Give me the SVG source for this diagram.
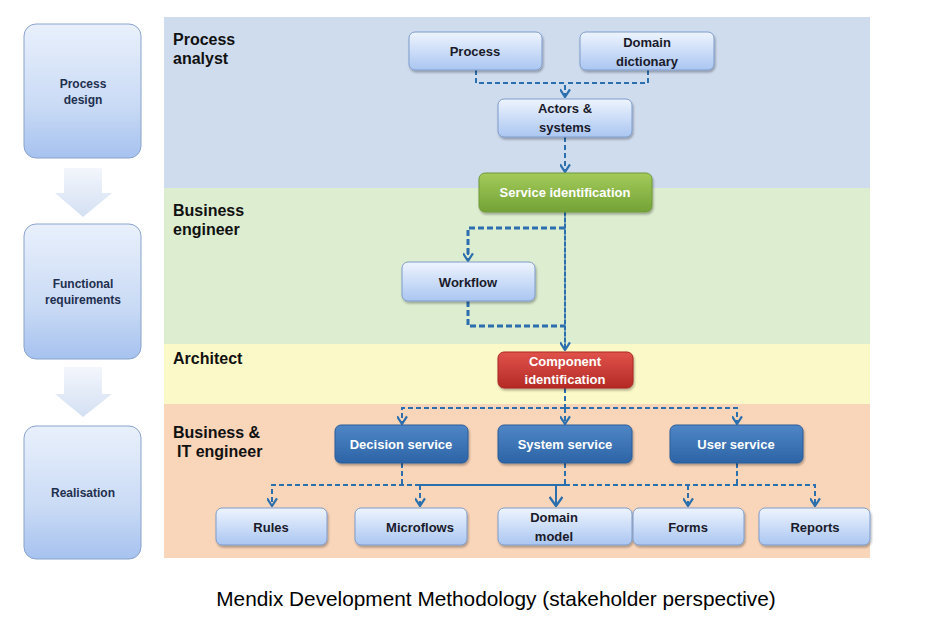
<svg xmlns="http://www.w3.org/2000/svg" width="928" height="627" viewBox="0 0 928 627">
<style>
.band-label{font-family:"Liberation Sans",Arial,sans-serif;font-weight:bold;font-size:16px;fill:#111;}
.stage{fill:url(#gStage);stroke:#8aa3cc;stroke-width:1;}
.stage-t{font-family:"Liberation Sans",Arial,sans-serif;font-weight:bold;font-size:12px;fill:#1f2f4f;text-anchor:middle;}
.fat{fill:url(#gArrow);}
.node{fill:url(#gLight);stroke:#7e9ccc;stroke-width:1;filter:url(#sh);}
.nodeG{fill:url(#gGreen);stroke:#6f9a38;stroke-width:1;filter:url(#sh);}
.nodeR{fill:url(#gRed);stroke:#a92723;stroke-width:1;filter:url(#sh);}
.nodeB{fill:url(#gBlue);stroke:#2a5c98;stroke-width:1;filter:url(#sh);}
.t{font-family:"Liberation Sans",Arial,sans-serif;font-weight:bold;font-size:13px;fill:#1a1a2a;text-anchor:middle;}
.tw{font-family:"Liberation Sans",Arial,sans-serif;font-weight:bold;font-size:13px;fill:#ffffff;text-anchor:middle;}
.dash{fill:none;stroke:#2b6fae;stroke-width:2;stroke-dasharray:5 3;marker-end:url(#chev);}
.dashn{fill:none;stroke:#2b6fae;stroke-width:2;stroke-dasharray:5 3;}
.dash3{fill:none;stroke:#2b6fae;stroke-width:3;stroke-dasharray:6 3;}
.solid{fill:none;stroke:#2b6fae;stroke-width:2;}
.thin{fill:none;stroke:#2b6fae;stroke-width:1.2;}
.caption{font-family:"Liberation Sans",Arial,sans-serif;font-size:20.8px;fill:#000;text-anchor:middle;}
</style>
<defs>
<linearGradient id="gStage" x1="0" y1="0" x2="0" y2="1">
<stop offset="0" stop-color="#e9f0fc"/><stop offset="0.6" stop-color="#cadbf5"/><stop offset="1" stop-color="#a6c2ef"/>
</linearGradient>
<linearGradient id="gArrow" x1="0" y1="0" x2="0" y2="1">
<stop offset="0" stop-color="#f3f6fc"/><stop offset="1" stop-color="#d3e0f3"/>
</linearGradient>
<linearGradient id="gLight" x1="0" y1="0" x2="0" y2="1">
<stop offset="0" stop-color="#eef4fe"/><stop offset="1" stop-color="#aac6f1"/>
</linearGradient>
<linearGradient id="gGreen" x1="0" y1="0" x2="0" y2="1">
<stop offset="0" stop-color="#a3cb5b"/><stop offset="1" stop-color="#74a236"/>
</linearGradient>
<linearGradient id="gRed" x1="0" y1="0" x2="0" y2="1">
<stop offset="0" stop-color="#e0524b"/><stop offset="1" stop-color="#b42a25"/>
</linearGradient>
<linearGradient id="gBlue" x1="0" y1="0" x2="0" y2="1">
<stop offset="0" stop-color="#4f86c6"/><stop offset="1" stop-color="#2c64a6"/>
</linearGradient>
<filter id="sh" x="-10%" y="-10%" width="125%" height="140%">
<feDropShadow dx="1" dy="2" stdDeviation="1.2" flood-color="#000" flood-opacity="0.3"/>
</filter>
<marker id="chev" viewBox="0 0 10 10" refX="9" refY="5" markerWidth="11" markerHeight="11" markerUnits="userSpaceOnUse" orient="auto">
<path d="M2,0.5 L9,5 L2,9.5" fill="none" stroke="#2b6fae" stroke-width="2" stroke-dasharray="none"/>
</marker>
<marker id="chevL" viewBox="0 0 12 14" refX="11" refY="7" markerWidth="12" markerHeight="14" markerUnits="userSpaceOnUse" orient="auto">
<path d="M2,0.5 L11,7 L2,13.5" fill="none" stroke="#2b6fae" stroke-width="2.4" stroke-dasharray="none"/>
</marker>
</defs>
<rect width="928" height="627" fill="#ffffff"/>

<g id="bands">
<rect x="164" y="17" width="706" height="171" fill="#cfdcee"/>
<rect x="164" y="188" width="706" height="156" fill="#ddedd0"/>
<rect x="164" y="344" width="706" height="60" fill="#fcf9c8"/>
<rect x="164" y="404" width="706" height="154" fill="#f9d5b9"/>
<text class="band-label" x="173" y="45">Process</text>
<text class="band-label" x="173" y="64">analyst</text>
<text class="band-label" x="173" y="216">Business</text>
<text class="band-label" x="173" y="235">engineer</text>
<text class="band-label" x="173" y="364">Architect</text>
<text class="band-label" x="173" y="438">Business &amp;</text>
<text class="band-label" x="177" y="457">IT engineer</text>
</g>

<g id="stage-process-design">
<rect class="stage" x="24" y="24" width="117" height="134" rx="12"/>
<text class="stage-t" x="83" y="88">Process</text>
<text class="stage-t" x="83" y="104">design</text>
</g>
<g id="stage-arrow-1">
<polygon class="fat" points="64,168 102,168 102,193 112,193 83,217 55,193 64,193"/>
</g>
<g id="stage-functional-requirements">
<rect class="stage" x="24" y="224" width="117" height="135" rx="12"/>
<text class="stage-t" x="83" y="288">Functional</text>
<text class="stage-t" x="83" y="304">requirements</text>
</g>
<g id="stage-arrow-2">
<polygon class="fat" points="64,367 102,367 102,394 112,394 83,417 55,394 64,394"/>
</g>
<g id="stage-realisation">
<rect class="stage" x="24" y="426" width="117" height="133" rx="12"/>
<text class="stage-t" x="83" y="497">Realisation</text>
</g>

<g id="connectors">
<path class="dash" d="M476,70 V83 H565 V97"/>
<path class="dashn" d="M648,70 V83 H565"/>
<path class="dash" d="M565,137 V172"/>
<path class="thin" d="M565,212 V350" marker-end="url(#chev)"/>
<path class="dashn" d="M565,212 V348" style="stroke-dasharray:4 2"/>
<path class="dash3" d="M565,228 H468 V255"/>
<path class="dash" d="M468,250 V261"/>
<path class="dash3" d="M468,301 V326 H565"/>
<path class="dashn" d="M565,388 V408"/>
<path class="dash" d="M565,408 V424"/>
<path class="dash" d="M565,408 H402 V424"/>
<path class="dash" d="M565,408 H737 V424"/>
<path class="dashn" d="M402,463 V485"/>
<path class="dashn" d="M565,463 V485"/>
<path class="dashn" d="M737,463 V485"/>
<path class="dash" d="M420,485 H272 V506"/>
<path class="dash" d="M420,485 V506"/>
<path class="solid" d="M420,485 H565"/>
<path class="solid" d="M556,485 V506" marker-end="url(#chevL)"/>
<path class="dash" d="M565,485 H815 V506"/>
<path class="dash" d="M688,485 V506"/>
</g>

<g id="node-process">
<rect class="node" x="409" y="32" width="133" height="38" rx="6"/>
<text class="t" x="475" y="56">Process</text>
</g>
<g id="node-domain-dictionary">
<rect class="node" x="580" y="32" width="134" height="38" rx="6"/>
<text class="t" x="647" y="47">Domain</text>
<text class="t" x="647" y="66">dictionary</text>
</g>
<g id="node-actors-systems">
<rect class="node" x="498" y="99" width="134" height="38" rx="6"/>
<text class="t" x="565" y="113">Actors &amp;</text>
<text class="t" x="565" y="132">systems</text>
</g>
<g id="node-service-identification">
<rect class="nodeG" x="479" y="173" width="173" height="39" rx="6"/>
<text class="tw" x="565" y="197">Service identification</text>
</g>
<g id="node-workflow">
<rect class="node" x="402" y="262" width="133" height="39" rx="6"/>
<text class="t" x="468" y="287">Workflow</text>
</g>
<g id="node-component-identification">
<rect class="nodeR" x="498" y="352" width="135" height="36" rx="6"/>
<text class="tw" x="565" y="366">Component</text>
<text class="tw" x="565" y="384">identification</text>
</g>
<g id="node-decision-service">
<rect class="nodeB" x="335" y="425" width="133" height="38" rx="6"/>
<text class="tw" x="401" y="449">Decision service</text>
</g>
<g id="node-system-service">
<rect class="nodeB" x="498" y="425" width="134" height="38" rx="6"/>
<text class="tw" x="565" y="449">System service</text>
</g>
<g id="node-user-service">
<rect class="nodeB" x="670" y="425" width="133" height="38" rx="6"/>
<text class="tw" x="736" y="449">User service</text>
</g>
<g id="node-rules">
<rect class="node" x="216" y="508" width="111" height="37" rx="6"/>
<text class="t" x="271" y="532">Rules</text>
</g>
<g id="node-microflows">
<rect class="node" x="355" y="508" width="112" height="37" rx="6"/>
<text class="t" x="420" y="532">Microflows</text>
</g>
<g id="node-domain-model">
<rect class="node" x="498" y="508" width="134" height="37" rx="6"/>
<text class="t" x="554" y="522">Domain</text>
<text class="t" x="554" y="541">model</text>
</g>
<g id="node-forms">
<rect class="node" x="633" y="508" width="111" height="37" rx="6"/>
<text class="t" x="688" y="532">Forms</text>
</g>
<g id="node-reports">
<rect class="node" x="759" y="508" width="111" height="37" rx="6"/>
<text class="t" x="815" y="532">Reports</text>
</g>

<text class="caption" x="496" y="606">Mendix Development Methodology (stakeholder perspective)</text>
</svg>
